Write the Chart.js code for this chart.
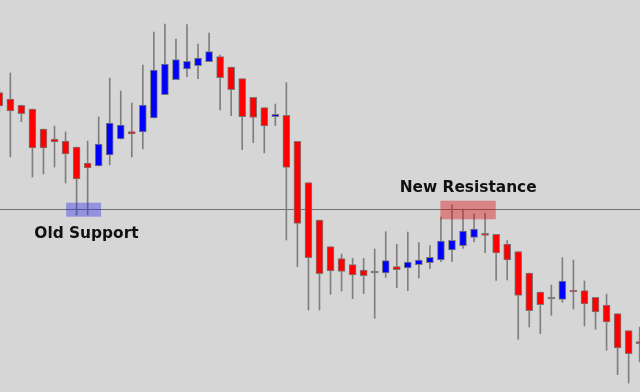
<!DOCTYPE html>
<html><head><meta charset="utf-8">
<script src="https://cdn.jsdelivr.net/npm/chart.js@4"></script>
<style>html,body{margin:0;padding:0;background:#d6d6d6;overflow:hidden}canvas{display:block}</style>
</head><body><canvas id="c" width="640" height="392"></canvas>
<script>
// Candle values (arbitrary price units)
const opens  = [307.5,301,294.7,291,271,261,259,253,237,234,245,261,268.3,268,282,305.3,320.3,331,334.3,338.3,343.3,333,321.3,302.7,292.3,283.3,284.7,258.7,217.3,180,153.3,141.3,135.3,130,127,127,133.3,132,135.3,137.3,140,150,154.3,162.7,166.3,165.7,156,148.3,127,108,101,100.7,110,109.3,102.7,95,86.3,69.3,58];
const highs  = [312,327,295,291,271,274,268,253,259,283,322,309,297,335,368,376,361,375.3,356,367,345,333,321.3,302.7,292.3,296,317.3,258.7,217.3,180,153.3,146,141.7,141.7,151,168.3,155.7,168,157.5,154.5,183,195,191,186,187,165.7,159.5,148.3,127,108,115,142.3,140,119,102.7,106,86.3,69.3,73];
const lows   = [288,243,278.3,223,226,233,217,185,185,234,235,261,243,251,282,305.3,320.3,323.3,321.3,338.3,290,284.3,250.3,257.3,247,274.3,160,133.3,90,90,105.7,109,101.3,106.3,81.7,122.7,112.3,109.3,122,131.3,138.3,138.3,151.7,158,147.3,119.7,120,60.7,73,66.3,84.7,97.7,91,74,70.7,49.7,25.3,17,38];
const closes = [294,289,286.3,252,252,258,246,221,232,256,277,275,266,295,330,336,340.3,338.7,342,348.3,322.3,310.3,283.3,282.7,274,285.7,232.7,176.7,142.3,126.3,129,128.7,125,124.3,127,139.3,130.3,138,140,142.7,159,159.7,169,171,164.7,147,140,104.7,89.3,95.3,101,119,108,96,88,78,52,46.3,56.3];
const candleIndex = opens.map((_, i) => i);

// Reference level and zones (in price / candle-index units)
const levelPrice = 190.5;
const supportZone = {x0: 6.05, x1: 9.22, y0: 183.3, y1: 197.3};
const resistanceZone = {x0: 39.95, x1: 44.97, y0: 180.7, y1: 199.3};
const labelOld = {text: 'Old Support', x: 3.17, y: 161.7};
const labelNew = {text: 'New Resistance', x: 36.26, y: 208};

const UP = '#0000ff', DOWN = '#ff0000', FLAT = '#6e6e6e', WICK = '#7f7f7f';

const wickData = candleIndex.map(i => ({x: i, y: [lows[i], highs[i]]}));
const bodyData = candleIndex.map(i => ({x: i, y: [opens[i], closes[i]]}));
const bodyColors = candleIndex.map(i => closes[i] > opens[i] ? UP : (closes[i] < opens[i] ? DOWN : FLAT));

const overlay = {
  id: 'overlay',
  beforeDraw(chart) {
    const ctx = chart.ctx;
    ctx.save();
    ctx.fillStyle = '#d6d6d6';
    ctx.fillRect(0, 0, chart.width, chart.height);
    ctx.restore();
  },
  beforeDatasetsDraw(chart) {
    const {ctx, scales: {x, y}} = chart;
    ctx.save();
    ctx.strokeStyle = '#707070';
    ctx.lineWidth = 1;
    const py = Math.round(y.getPixelForValue(levelPrice)) + 0.5;
    ctx.beginPath(); ctx.moveTo(0, py); ctx.lineTo(chart.width, py); ctx.stroke();
    ctx.restore();
  },
  afterDatasetsDraw(chart) {
    const {ctx, scales: {x, y}} = chart;
    const box = (z, color) => {
      const l = x.getPixelForValue(z.x0), r = x.getPixelForValue(z.x1);
      const t = y.getPixelForValue(z.y1), b = y.getPixelForValue(z.y0);
      ctx.fillStyle = color;
      ctx.fillRect(l, t, r - l, b - t);
    };
    ctx.save();
    box(supportZone, 'rgba(40,40,235,0.38)');
    box(resistanceZone, 'rgba(220,10,10,0.4)');
    ctx.fillStyle = '#111';
    ctx.font = 'bold 15.4px "DejaVu Sans"';
    ctx.textBaseline = 'alphabetic';
    ctx.textAlign = 'left';
    [labelOld, labelNew].forEach(l => ctx.fillText(l.text, x.getPixelForValue(l.x), y.getPixelForValue(l.y)));
    ctx.restore();
  }
};

new Chart(document.getElementById('c'), {
  type: 'bar',
  data: {
    datasets: [
      {label: 'wick', data: wickData, backgroundColor: WICK, barThickness: 1, grouped: false, order: 2},
      {label: 'body', data: bodyData, backgroundColor: bodyColors, borderColor: '#7a7a7a', borderWidth: 1,
       borderSkipped: false, barThickness: 7, minBarLength: 2, grouped: false, order: 1}
    ]
  },
  options: {
    responsive: false,
    animation: false,
    devicePixelRatio: 1,
    layout: {padding: 0},
    events: [],
    scales: {
      x: {type: 'linear', min: 0.063, max: 58.03, display: false, offset: false},
      y: {min: 8, max: 400, display: false}
    },
    plugins: {legend: {display: false}, tooltip: {enabled: false}}
  },
  plugins: [overlay]
});
</script>
</body></html>
